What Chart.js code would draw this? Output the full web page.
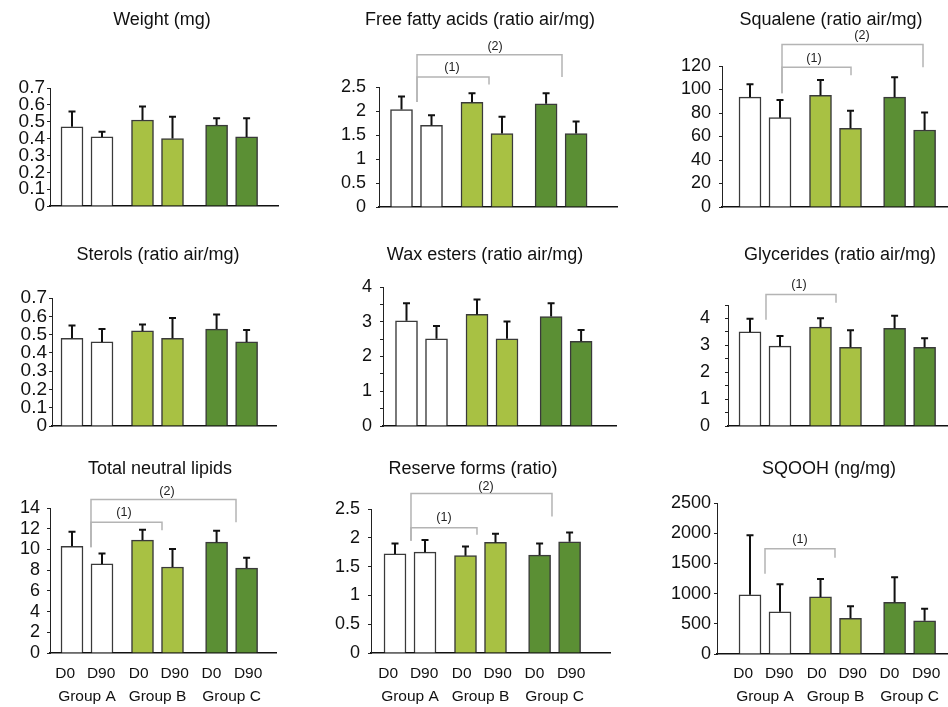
<!DOCTYPE html>
<html><head><meta charset="utf-8">
<script src="https://cdn.jsdelivr.net/npm/chart.js@4.4.1/dist/chart.umd.min.js"></script>
<style>
html,body{margin:0;padding:0;background:#fff;overflow:hidden;}
#wrap{position:relative;width:948px;height:707px;overflow:hidden;background:#fff;}
canvas{position:absolute;}
</style></head><body><div id="wrap"></div>
<script>
// ---------------- data ----------------
const dayLabels   = ['D0','D90','D0','D90','D0','D90'];
const groupLabels = ['Group A','Group B','Group C'];

const weightMean   = [0.47, 0.41, 0.51, 0.40, 0.48, 0.41];
const weightSD     = [0.09, 0.03, 0.08, 0.13, 0.04, 0.11];
const ffaMean      = [2.03, 1.70, 2.18, 1.53, 2.15, 1.53];
const ffaSD        = [0.27, 0.21, 0.19, 0.35, 0.22, 0.25];
const squaleneMean = [93.5, 76, 95, 67, 93.5, 65.5];
const squaleneSD   = [11, 15, 13, 15, 17, 15];
const sterolsMean  = [0.48, 0.46, 0.52, 0.48, 0.53, 0.46];
const sterolsSD    = [0.07, 0.07, 0.035, 0.11, 0.08, 0.065];
const waxMean      = [3.03, 2.51, 3.21, 2.51, 3.15, 2.44];
const waxSD        = [0.50, 0.37, 0.43, 0.50, 0.38, 0.32];
const glycMean     = [3.50, 2.97, 3.68, 2.93, 3.63, 2.93];
const glycSD       = [0.49, 0.38, 0.33, 0.63, 0.47, 0.33];
const tnlMean      = [10.3, 8.6, 10.9, 8.3, 10.7, 8.2];
const tnlSD        = [1.4, 1.0, 1.0, 1.75, 1.1, 1.0];
const reserveMean  = [1.72, 1.75, 1.69, 1.92, 1.70, 1.93];
const reserveSD    = [0.18, 0.21, 0.16, 0.15, 0.20, 0.16];
const sqoohMean    = [980, 700, 945, 590, 855, 550];
const sqoohSD      = [985, 455, 297, 199, 414, 199];

// ---------------- layout / style ----------------
const slots = [1, 2, 3.35, 4.35, 5.82, 6.82];             // bar positions on the x axis
const daySlots = [0.77, 1.97, 3.22, 4.42, 5.65, 6.87];    // where the D0 / D90 texts sit
const groupSlots = [0, 1, 2].map(g => (slots[2*g] + slots[2*g+1]) / 2);
const barColors = ['#ffffff','#ffffff','#a8c143','#a8c143','#5b8f34','#5b8f34'];
const FONT = "'Liberation Sans', Arial, Helvetica, sans-serif";
const TITLE_SIZE = 18, TICK_SIZE = 18, XLAB_SIZE = 15.5, BR_SIZE = 12.5;
const PX_PER_SLOT = 30;

const rows = [
  {T: 0,   H: 230, titleY: 20},
  {T: 230, H: 230, titleY: 255},
  {T: 450, H: 257, titleY: 469, dayY: 673.5, groupY: 696.5}
];
const cols = [{L: 0, W: 330}, {L: 316, W: 330}, {L: 632, W: 400}];

const panels = [
  {title: 'Weight (mg)', mean: weightMean, sd: weightSD, row: 0, col: 0, max: 0.7, step: 0.1, gap: 5, tick: 19,
   axisX: 50, endX: 278, bar1: 72, titleX: 162, topY: 88, baseY: 206},
  {title: 'Free fatty acids (ratio air/mg)', mean: ffaMean, sd: ffaSD, row: 0, col: 1, max: 2.5, step: 0.5, gap: 13,
   axisX: 379, endX: 617, bar1: 401.5, titleX: 480, topY: 87, baseY: 207,
   brackets: [
     {from: 1.517, to: 3.917, y: 2.71, legFrom: 2.19, legTo: 2.55, label: '(1)', lx: 2.68, ly: 2.9},
     {from: 1.517, to: 6.35, y: 3.17, legFrom: 2.19, legTo: 2.71, label: '(2)', lx: 4.12, ly: 3.34}]},
  {title: 'Squalene (ratio air/mg)', mean: squaleneMean, sd: squaleneSD, row: 0, col: 2, max: 120, step: 20, gap: 11,
   axisX: 722, endX: 948, bar1: 750, titleX: 831, topY: 66, baseY: 207,
   brackets: [
     {from: 2.067, to: 4.367, y: 118.9, legFrom: 96.9, legTo: 112.1, label: '(1)', lx: 3.13, ly: 126.5},
     {from: 2.067, to: 6.767, y: 138.4, legFrom: 96.9, legTo: 118.9, label: '(2)', lx: 4.73, ly: 145.9}]},
  {title: 'Sterols (ratio air/mg)', mean: sterolsMean, sd: sterolsSD, row: 1, col: 0, max: 0.7, step: 0.1, gap: 5, tick: 19,
   axisX: 52, endX: 276, bar1: 72, titleX: 158, topY: 298, baseY: 426},
  {title: 'Wax esters (ratio air/mg)', mean: waxMean, sd: waxSD, row: 1, col: 1, max: 4, step: 0.5, intOnly: true, gap: 11,
   axisX: 383, endX: 616, bar1: 406.5, titleX: 485, topY: 287, baseY: 426},
  {title: 'Glycerides (ratio air/mg)', mean: glycMean, sd: glycSD, row: 1, col: 2, max: 4.5, step: 0.5, intOnly: true, gap: 18,
   axisX: 728, endX: 948, bar1: 750, titleX: 840, topY: 305, baseY: 426,
   brackets: [
     {from: 1.533, to: 3.867, y: 4.886, legFrom: 3.95, legTo: 4.587, label: '(1)', lx: 2.633, ly: 5.26}]},
  {title: 'Total neutral lipids', mean: tnlMean, sd: tnlSD, row: 2, col: 0, max: 14, step: 2, gap: 10,
   axisX: 50, endX: 276, bar1: 72, titleX: 160, topY: 508, baseY: 653,
   brackets: [
     {from: 1.633, to: 4.0, y: 12.62, legFrom: 10.22, legTo: 11.85, label: '(1)', lx: 2.733, ly: 13.55},
     {from: 1.633, to: 6.467, y: 14.83, legFrom: 10.22, legTo: 12.62, label: '(2)', lx: 4.167, ly: 15.6}]},
  {title: 'Reserve forms (ratio)', mean: reserveMean, sd: reserveSD, row: 2, col: 1, max: 2.5, step: 0.5, gap: 11,
   axisX: 371, endX: 610, bar1: 395, titleX: 473, topY: 509, baseY: 653,
   brackets: [
     {from: 1.533, to: 3.733, y: 2.175, legFrom: 1.95, legTo: 2.054, label: '(1)', lx: 2.633, ly: 2.36},
     {from: 1.533, to: 6.233, y: 2.767, legFrom: 1.95, legTo: 2.37, label: '(2)', lx: 4.033, ly: 2.89}]},
  {title: 'SQOOH (ng/mg)', mean: sqoohMean, sd: sqoohSD, row: 2, col: 2, max: 2500, step: 500, gap: 6,
   axisX: 717, endX: 948, bar1: 750, titleX: 829, topY: 503, baseY: 654,
   brackets: [
     {from: 1.5, to: 3.833, y: 1743, legFrom: 1329, legTo: 1594, label: '(1)', lx: 2.667, ly: 1892}]}
];

Chart.defaults.font.family = FONT;
Chart.defaults.color = '#111';

function makeAnnot(p) {
  return {
    id: 'annot_' + p.row + '_' + p.col,
    afterDraw(chart) {
      const ctx = chart.ctx, xs = chart.scales.x, ys = chart.scales.y;
      ctx.save();
      // significance brackets
      (p.brackets || []).forEach(b => {
        const xa = xs.getPixelForValue(b.from), xb = xs.getPixelForValue(b.to);
        const yy = ys.getPixelForValue(b.y);
        ctx.strokeStyle = '#b4b4b4';
        ctx.lineWidth = 1.5;
        ctx.beginPath();
        ctx.moveTo(xa, ys.getPixelForValue(b.legFrom));
        ctx.lineTo(xa, yy);
        ctx.lineTo(xb, yy);
        ctx.lineTo(xb, ys.getPixelForValue(b.legTo));
        ctx.stroke();
        ctx.fillStyle = '#222';
        ctx.font = BR_SIZE + 'px ' + FONT;
        ctx.textAlign = 'center';
        ctx.textBaseline = 'middle';
        ctx.fillText(b.label, xs.getPixelForValue(b.lx), ys.getPixelForValue(b.ly));
      });
      // error bars (upper SD)
      const meta = chart.getDatasetMeta(0);
      ctx.strokeStyle = '#111';
      ctx.lineWidth = 2;
      meta.data.forEach((bar, i) => {
        const x = bar.x;
        const y0 = ys.getPixelForValue(p.mean[i]);
        const y1 = ys.getPixelForValue(p.mean[i] + p.sd[i]);
        ctx.beginPath();
        ctx.moveTo(x, y0);
        ctx.lineTo(x, y1);
        ctx.moveTo(x - 3.5, y1);
        ctx.lineTo(x + 3.5, y1);
        ctx.stroke();
      });
      ctx.restore();
    }
  };
}

const wrap = document.getElementById('wrap');
panels.forEach(p => {
  const r = rows[p.row], c = cols[p.col];
  const cv = document.createElement('canvas');
  cv.width = c.W; cv.height = r.H;
  cv.style.left = c.L + 'px'; cv.style.top = r.T + 'px';
  cv.style.width = c.W + 'px'; cv.style.height = r.H + 'px';
  wrap.appendChild(cv);

  const tlh = TITLE_SIZE * 1.2, xlh = XLAB_SIZE * 1.2;
  // horizontal geometry: [pl][y axis yw][chart area][spacer rw][pr]
  const yw = Math.min(50, p.axisX - c.L);
  const pl = p.axisX - c.L - yw;
  const boxLeft = p.axisX - yw;                 // absolute left of title box
  const boxRight = 2 * p.titleX - boxLeft;      // absolute right of title box
  const rw = Math.max(0, boxRight - p.endX);
  const pr = Math.max(0, (c.L + c.W) - boxRight);
  // vertical geometry
  const pt = r.titleY - r.T - tlh / 2;
  const tb = p.topY - r.titleY - tlh / 2;
  const xMin = 1 - (p.bar1 - p.axisX) / PX_PER_SLOT;
  const xMax = 1 + (p.endX - p.bar1) / PX_PER_SLOT;
  const showX = !!r.dayY;
  const hx = showX ? 33 : (r.T + r.H - p.baseY);
  const hx2 = r.T + r.H - p.baseY - hx;

  const scales = {
    x: {
      type: 'linear', position: 'bottom', min: xMin, max: xMax, offset: false, weight: 0,
      grid: {display: false, drawTicks: false, tickLength: 0, offset: false},
      border: {display: true, color: '#111', width: 1.5},
      afterBuildTicks: s => { s.ticks = daySlots.map(v => ({value: v})); },
      afterFit: s => { s.height = hx; },
      ticks: {
        display: showX, autoSkip: false, maxRotation: 0, minRotation: 0,
        padding: showX ? (r.dayY - p.baseY - xlh / 2) : 0,
        font: {size: XLAB_SIZE}, color: '#111',
        callback: (v, i) => dayLabels[i]
      }
    },
    y: {
      type: 'linear', position: 'left', min: 0, max: p.max,
      grid: {drawOnChartArea: false, drawTicks: true, tickLength: 3, color: '#222', lineWidth: 1},
      border: {display: true, color: '#222', width: 1},
      afterFit: s => { s.width = yw; },
      ticks: {
        stepSize: p.step, autoSkip: false, padding: p.gap - 3,
        font: {size: p.tick || TICK_SIZE}, color: '#111',
        callback: v => {
          const n = parseFloat(Number(v).toFixed(3));
          if (p.intOnly && !Number.isInteger(n)) return '';
          return String(n);
        }
      }
    },
    spacer: {
      type: 'linear', position: 'right', min: 0, max: 1,
      grid: {display: false, drawTicks: false}, border: {display: false},
      ticks: {display: false},
      afterFit: s => { s.width = rw; }
    }
  };
  if (showX) {
    scales.x2 = {
      type: 'linear', position: 'bottom', min: xMin, max: xMax, offset: false, weight: 1,
      grid: {display: false, drawTicks: false, tickLength: 0, offset: false},
      border: {display: false},
      afterBuildTicks: s => { s.ticks = groupSlots.map(v => ({value: v})); },
      afterFit: s => { s.height = hx2; },
      ticks: {
        autoSkip: false, maxRotation: 0, minRotation: 0,
        padding: r.groupY - (p.baseY + hx) - xlh / 2,
        font: {size: XLAB_SIZE}, color: '#111',
        callback: (v, i) => groupLabels[i]
      }
    };
  }

  new Chart(cv, {
    type: 'bar',
    data: {
      datasets: [{
        data: slots.map((x, i) => ({x: x, y: p.mean[i]})),
        backgroundColor: barColors,
        borderColor: '#3a3a3a',
        borderWidth: 1.5,
        barThickness: 22
      }]
    },
    options: {
      responsive: false, animation: false, devicePixelRatio: 1,
      layout: {padding: {left: pl, right: pr, top: pt, bottom: 0}},
      scales: scales,
      plugins: {
        legend: {display: false},
        tooltip: {enabled: false},
        title: {
          display: true, text: p.title, color: '#111',
          font: {size: TITLE_SIZE, weight: 'normal'},
          padding: {top: 0, bottom: tb}
        }
      }
    },
    plugins: [makeAnnot(p)]
  });
});
</script>
</body></html>
